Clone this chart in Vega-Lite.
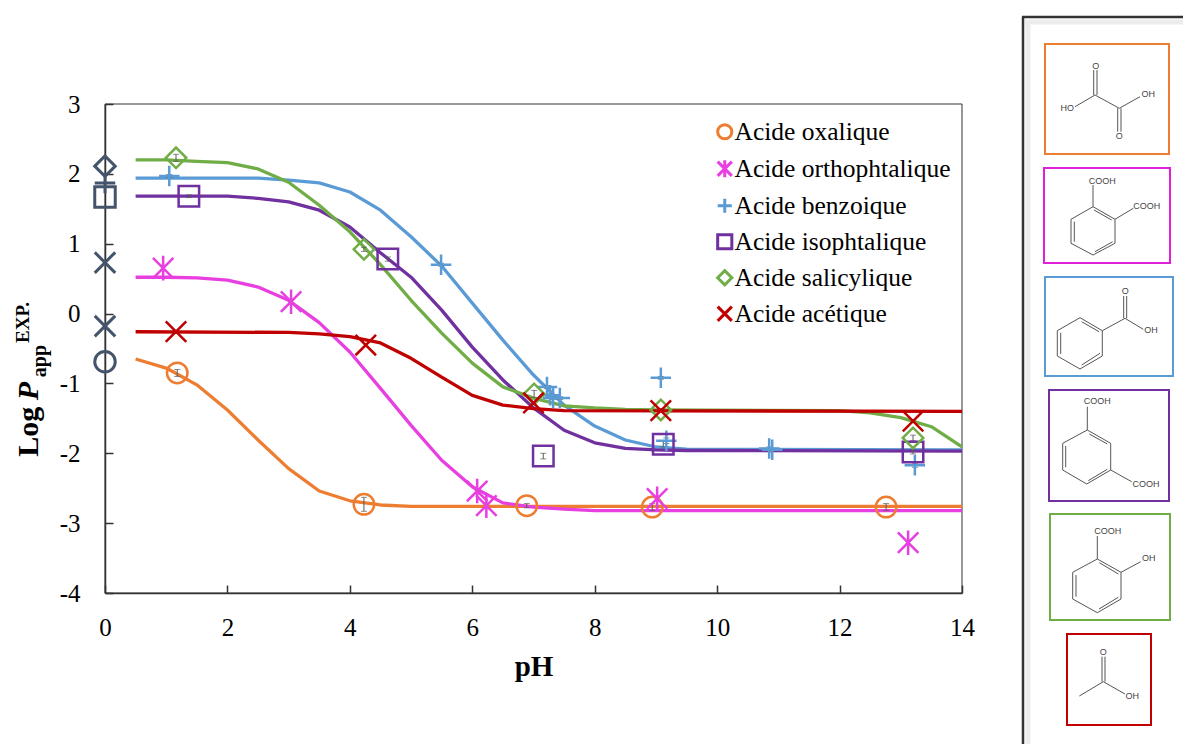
{
"$schema":"https://vega.github.io/schema/vega-lite/v6.json",
"padding":0,"spacing":0,
"background":"white",
"config":{"view":{"stroke":null},"legend":{"title":null,"orient":"none","labelFont":"Liberation Serif","labelFontSize":25.5,"labelColor":"#000000","labelLimit":400,"symbolSize":200,"symbolStrokeWidth":3,"rowPadding":8,"labelOffset":-3,"symbolOpacity":1}},
"datasets":{
"curves":[
{"s":"Acide oxalique","pH":0.5,"v":-0.65},{"s":"Acide oxalique","pH":1,"v":-0.78},{"s":"Acide oxalique","pH":1.5,"v":-1.02},{"s":"Acide oxalique","pH":2,"v":-1.38},{"s":"Acide oxalique","pH":2.5,"v":-1.81},{"s":"Acide oxalique","pH":3,"v":-2.22},{"s":"Acide oxalique","pH":3.5,"v":-2.54},{"s":"Acide oxalique","pH":4,"v":-2.68},{"s":"Acide oxalique","pH":4.5,"v":-2.74},{"s":"Acide oxalique","pH":5,"v":-2.76},{"s":"Acide oxalique","pH":7,"v":-2.76},{"s":"Acide oxalique","pH":14,"v":-2.76},
{"s":"Acide orthophtalique","pH":0.5,"v":0.52},{"s":"Acide orthophtalique","pH":1,"v":0.52},{"s":"Acide orthophtalique","pH":1.5,"v":0.51},{"s":"Acide orthophtalique","pH":2,"v":0.48},{"s":"Acide orthophtalique","pH":2.5,"v":0.38},{"s":"Acide orthophtalique","pH":3,"v":0.19},{"s":"Acide orthophtalique","pH":3.5,"v":-0.13},{"s":"Acide orthophtalique","pH":4,"v":-0.55},{"s":"Acide orthophtalique","pH":4.5,"v":-1.07},{"s":"Acide orthophtalique","pH":5,"v":-1.6},{"s":"Acide orthophtalique","pH":5.5,"v":-2.1},{"s":"Acide orthophtalique","pH":6,"v":-2.48},{"s":"Acide orthophtalique","pH":6.5,"v":-2.71},{"s":"Acide orthophtalique","pH":7,"v":-2.77},{"s":"Acide orthophtalique","pH":7.5,"v":-2.8},{"s":"Acide orthophtalique","pH":8,"v":-2.82},{"s":"Acide orthophtalique","pH":14,"v":-2.82},
{"s":"Acide benzoique","pH":0.5,"v":1.94},{"s":"Acide benzoique","pH":2.5,"v":1.94},{"s":"Acide benzoique","pH":3,"v":1.91},{"s":"Acide benzoique","pH":3.5,"v":1.87},{"s":"Acide benzoique","pH":4,"v":1.74},{"s":"Acide benzoique","pH":4.5,"v":1.48},{"s":"Acide benzoique","pH":5,"v":1.1},{"s":"Acide benzoique","pH":5.5,"v":0.68},{"s":"Acide benzoique","pH":6,"v":0.15},{"s":"Acide benzoique","pH":6.5,"v":-0.38},{"s":"Acide benzoique","pH":7,"v":-0.88},{"s":"Acide benzoique","pH":7.5,"v":-1.31},{"s":"Acide benzoique","pH":8,"v":-1.61},{"s":"Acide benzoique","pH":8.5,"v":-1.81},{"s":"Acide benzoique","pH":9,"v":-1.91},{"s":"Acide benzoique","pH":9.5,"v":-1.94},{"s":"Acide benzoique","pH":14,"v":-1.95},
{"s":"Acide isophtalique","pH":0.5,"v":1.68},{"s":"Acide isophtalique","pH":2,"v":1.68},{"s":"Acide isophtalique","pH":2.5,"v":1.65},{"s":"Acide isophtalique","pH":3,"v":1.6},{"s":"Acide isophtalique","pH":3.5,"v":1.48},{"s":"Acide isophtalique","pH":4,"v":1.24},{"s":"Acide isophtalique","pH":4.5,"v":0.87},{"s":"Acide isophtalique","pH":5,"v":0.52},{"s":"Acide isophtalique","pH":5.5,"v":0.05},{"s":"Acide isophtalique","pH":6,"v":-0.48},{"s":"Acide isophtalique","pH":6.5,"v":-0.95},{"s":"Acide isophtalique","pH":7,"v":-1.35},{"s":"Acide isophtalique","pH":7.5,"v":-1.67},{"s":"Acide isophtalique","pH":8,"v":-1.85},{"s":"Acide isophtalique","pH":8.5,"v":-1.93},{"s":"Acide isophtalique","pH":9,"v":-1.95},{"s":"Acide isophtalique","pH":9.5,"v":-1.96},{"s":"Acide isophtalique","pH":14,"v":-1.97},
{"s":"Acide salicylique","pH":0.5,"v":2.2},{"s":"Acide salicylique","pH":1,"v":2.2},{"s":"Acide salicylique","pH":1.5,"v":2.18},{"s":"Acide salicylique","pH":2,"v":2.16},{"s":"Acide salicylique","pH":2.5,"v":2.07},{"s":"Acide salicylique","pH":3,"v":1.88},{"s":"Acide salicylique","pH":3.5,"v":1.55},{"s":"Acide salicylique","pH":4,"v":1.17},{"s":"Acide salicylique","pH":4.5,"v":0.7},{"s":"Acide salicylique","pH":5,"v":0.19},{"s":"Acide salicylique","pH":5.5,"v":-0.28},{"s":"Acide salicylique","pH":6,"v":-0.71},{"s":"Acide salicylique","pH":6.5,"v":-1.05},{"s":"Acide salicylique","pH":7,"v":-1.21},{"s":"Acide salicylique","pH":7.5,"v":-1.32},{"s":"Acide salicylique","pH":8,"v":-1.35},{"s":"Acide salicylique","pH":8.5,"v":-1.37},{"s":"Acide salicylique","pH":9,"v":-1.38},{"s":"Acide salicylique","pH":12,"v":-1.39},{"s":"Acide salicylique","pH":12.5,"v":-1.42},{"s":"Acide salicylique","pH":13,"v":-1.49},{"s":"Acide salicylique","pH":13.5,"v":-1.62},{"s":"Acide salicylique","pH":14,"v":-1.91},
{"s":"Acide acétique","pH":0.5,"v":-0.26},{"s":"Acide acétique","pH":3,"v":-0.27},{"s":"Acide acétique","pH":3.5,"v":-0.29},{"s":"Acide acétique","pH":4,"v":-0.33},{"s":"Acide acétique","pH":4.5,"v":-0.42},{"s":"Acide acétique","pH":5,"v":-0.64},{"s":"Acide acétique","pH":5.5,"v":-0.91},{"s":"Acide acétique","pH":6,"v":-1.17},{"s":"Acide acétique","pH":6.5,"v":-1.31},{"s":"Acide acétique","pH":7,"v":-1.36},{"s":"Acide acétique","pH":7.5,"v":-1.39},{"s":"Acide acétique","pH":14,"v":-1.4}
],
"points":[
{"s":"Acide oxalique","pH":1.18,"v":-0.85,"e":0.05},{"s":"Acide oxalique","pH":4.23,"v":-2.73,"e":0.1},{"s":"Acide oxalique","pH":6.89,"v":-2.75,"e":0.03},{"s":"Acide oxalique","pH":8.94,"v":-2.77,"e":0.05},{"s":"Acide oxalique","pH":12.76,"v":-2.77,"e":0.05},
{"s":"Acide orthophtalique","pH":0.95,"v":0.65,"e":0.02},{"s":"Acide orthophtalique","pH":3.04,"v":0.17,"e":0.02},{"s":"Acide orthophtalique","pH":6.08,"v":-2.54,"e":0.02},{"s":"Acide orthophtalique","pH":6.23,"v":-2.75,"e":0.02},{"s":"Acide orthophtalique","pH":9.02,"v":-2.65,"e":0.02},{"s":"Acide orthophtalique","pH":13.12,"v":-3.28,"e":0.02},
{"s":"Acide benzoique","pH":1.05,"v":1.97,"e":0.02},{"s":"Acide benzoique","pH":5.49,"v":0.7,"e":0.02},{"s":"Acide benzoique","pH":7.22,"v":-1.05,"e":0.02},{"s":"Acide benzoique","pH":7.27,"v":-1.17,"e":0.02},{"s":"Acide benzoique","pH":7.32,"v":-1.21,"e":0.02},{"s":"Acide benzoique","pH":7.43,"v":-1.21,"e":0.02},{"s":"Acide benzoique","pH":9.08,"v":-0.92,"e":0.02},{"s":"Acide benzoique","pH":9.17,"v":-1.82,"e":0.04},{"s":"Acide benzoique","pH":10.85,"v":-1.93,"e":0.02},{"s":"Acide benzoique","pH":10.9,"v":-1.95,"e":0.02},{"s":"Acide benzoique","pH":13.23,"v":-2.17,"e":0.03},
{"s":"Acide isophtalique","pH":1.37,"v":1.68,"e":0.02},{"s":"Acide isophtalique","pH":4.62,"v":0.78,"e":0.03},{"s":"Acide isophtalique","pH":7.16,"v":-2.04,"e":0.04},{"s":"Acide isophtalique","pH":9.12,"v":-1.87,"e":0.04},{"s":"Acide isophtalique","pH":13.2,"v":-1.98,"e":0.03},
{"s":"Acide salicylique","pH":1.16,"v":2.23,"e":0.05},{"s":"Acide salicylique","pH":4.23,"v":0.92,"e":0.03},{"s":"Acide salicylique","pH":7.01,"v":-1.15,"e":0.05},{"s":"Acide salicylique","pH":9.08,"v":-1.38,"e":0.02},{"s":"Acide salicylique","pH":13.2,"v":-1.78,"e":0.04},
{"s":"Acide acétique","pH":1.16,"v":-0.26,"e":0.02},{"s":"Acide acétique","pH":4.26,"v":-0.45,"e":0.02},{"s":"Acide acétique","pH":7.0,"v":-1.28,"e":0.02},{"s":"Acide acétique","pH":9.08,"v":-1.39,"e":0.02},{"s":"Acide acétique","pH":13.2,"v":-1.54,"e":0.02}
],
"refs":[
{"s":"Acide salicylique","pH":0,"v":2.11},{"s":"Acide benzoique","pH":0,"v":1.87},{"s":"Acide isophtalique","pH":0,"v":1.67},{"s":"Acide acétique","pH":0,"v":0.73},{"s":"Acide acétique","pH":0,"v":-0.18},{"s":"Acide oxalique","pH":0,"v":-0.69}
],
"bonds":[
{"x":73,"y":95,"x2":97.3,"y2":108.3},{"x":71.7,"y":70,"x2":71.7,"y2":95},{"x":75,"y":70,"x2":75,"y2":95},{"x":73,"y":95,"x2":53,"y2":106.7},{"x":97.3,"y":108.3,"x2":118,"y2":96.7},{"x":95.7,"y":108.3,"x2":95.7,"y2":131.7},{"x":99,"y":108.3,"x2":99,"y2":131.7},
{"x":71,"y":206.7,"x2":93,"y2":219.3},{"x":93,"y":219.3,"x2":93,"y2":243.3},{"x":93,"y":243.3,"x2":71,"y2":255},{"x":71,"y":255,"x2":49,"y2":243.3},{"x":49,"y":243.3,"x2":49,"y2":219.3},{"x":49,"y":219.3,"x2":71,"y2":206.7},{"x":52.3,"y":221.7,"x2":52.3,"y2":241.7},{"x":73,"y":251.7,"x2":90.7,"y2":241.7},{"x":72,"y":210,"x2":89.7,"y2":220},{"x":71,"y":206.7,"x2":71,"y2":185},{"x":93,"y":219.3,"x2":111.3,"y2":208.3},
{"x":58,"y":317.7,"x2":80.3,"y2":330.7},{"x":80.3,"y":330.7,"x2":80.3,"y2":356},{"x":80.3,"y":356,"x2":58,"y2":369},{"x":58,"y":369,"x2":35.3,"y2":356},{"x":35.3,"y":356,"x2":35.3,"y2":330.7},{"x":35.3,"y":330.7,"x2":58,"y2":317.7},{"x":59.7,"y":321.7,"x2":77,"y2":331.7},{"x":38.7,"y":332.7,"x2":38.7,"y2":354},{"x":59.7,"y":365,"x2":78,"y2":353.3},{"x":80.3,"y":330.7,"x2":103,"y2":318.3},{"x":101.7,"y":296,"x2":101.7,"y2":318.3},{"x":104.7,"y":296,"x2":104.7,"y2":318.3},{"x":103,"y":318.3,"x2":121.3,"y2":329.3},
{"x":65.3,"y":430,"x2":88.7,"y2":443.3},{"x":88.7,"y":443.3,"x2":88.7,"y2":470},{"x":88.7,"y":470,"x2":64.7,"y2":484},{"x":64.7,"y":484,"x2":40.7,"y2":470},{"x":40.7,"y":470,"x2":40.7,"y2":443.3},{"x":40.7,"y":443.3,"x2":65.3,"y2":430},{"x":67.3,"y":434,"x2":85.3,"y2":444},{"x":43.7,"y":446,"x2":43.7,"y2":467.3},{"x":66.3,"y":480.7,"x2":85.3,"y2":469.3},{"x":65.3,"y":430,"x2":65.3,"y2":406.7},{"x":88.7,"y":470,"x2":109.7,"y2":481.7},
{"x":75.3,"y":559,"x2":99,"y2":572.3},{"x":99,"y":572.3,"x2":99,"y2":599},{"x":99,"y":599,"x2":75.3,"y2":612.7},{"x":75.3,"y":612.7,"x2":50.7,"y2":599},{"x":50.7,"y":599,"x2":50.7,"y2":572.3},{"x":50.7,"y":572.3,"x2":75.3,"y2":559},{"x":77.3,"y":562.7,"x2":96.3,"y2":574},{"x":54,"y":575,"x2":54,"y2":596.7},{"x":77,"y":609,"x2":96.3,"y2":597.3},{"x":75.3,"y":559,"x2":75.3,"y2":536},{"x":99,"y":572.3,"x2":118.7,"y2":561.7},
{"x":81.3,"y":681.7,"x2":57.3,"y2":696},{"x":80,"y":656.7,"x2":80,"y2":681.7},{"x":83,"y":656.7,"x2":83,"y2":681.7},{"x":81.3,"y":681.7,"x2":103,"y2":694}
],
"atoms":[
{"t":"O","x":73.7,"y":65.7},{"t":"HO","x":45.3,"y":108.3},{"t":"OH","x":126.3,"y":94.3},{"t":"O","x":97.3,"y":136.3},
{"t":"COOH","x":80.3,"y":180.7},{"t":"COOH","x":124.7,"y":205.7},
{"t":"O","x":103.3,"y":291.3},{"t":"OH","x":129,"y":330.3},
{"t":"COOH","x":75.3,"y":401},{"t":"COOH","x":124,"y":484},
{"t":"COOH","x":85.7,"y":531},{"t":"OH","x":126.7,"y":558.3},
{"t":"O","x":81.3,"y":651.7},{"t":"OH","x":110.3,"y":696.3}
],
"boxes":[
{"s":"Acide oxalique","x":23,"x2":147,"y":44,"y2":154},
{"s":"Acide orthophtalique","x":22,"x2":148,"y":168,"y2":263},
{"s":"Acide benzoique","x":23,"x2":151,"y":277,"y2":376},
{"s":"Acide isophtalique","x":27,"x2":147,"y":390,"y2":501},
{"s":"Acide salicylique","x":28,"x2":148,"y":514,"y2":620},
{"s":"Acide acétique","x":45,"x2":129,"y":634,"y2":725}
]
},
"hconcat":[
{
"width":1020,"height":744,
"layer":[
{"data":{"values":[{"a":0,"b":14,"c":-4,"d":3}]},
 "mark":{"type":"rect","fill":null,"stroke":"#333333","strokeWidth":1},
 "encoding":{"x":{"field":"a","type":"quantitative","scale":{"domain":[0,14],"range":[105,962],"nice":false,"zero":false},
   "axis":{"orient":"bottom","offset":-151,"values":[0,2,4,6,8,10,12,14],"labelExpr":"'' + datum.value","title":"pH","titleFont":"Liberation Serif","titleFontWeight":"bold","titleFontSize":29,"titleColor":"#000000","titlePadding":12,"labelFont":"Liberation Serif","labelFontSize":25,"labelColor":"#000000","labelPadding":30,"tickSize":-8,"tickColor":"#333333","tickWidth":1.5,"domainColor":"#333333","domainWidth":1.5,"grid":false,"labelFlush":false,"labelOverlap":false}},
  "x2":{"field":"b"},
  "y":{"field":"c","type":"quantitative","scale":{"domain":[-4,3],"range":[593,104],"nice":false,"zero":false},
   "axis":{"orient":"left","offset":-105,"values":[-4,-3,-2,-1,0,1,2,3],"labelExpr":"'' + datum.value","title":null,"labelFont":"Liberation Serif","labelFontSize":25,"labelColor":"#000000","labelPadding":33,"tickSize":-8,"tickColor":"#333333","tickWidth":1.5,"domainColor":"#333333","domainWidth":1.5,"grid":false,"labelOverlap":false}},
  "y2":{"field":"d"}}},
{"data":{"name":"curves"},
 "mark":{"type":"line","interpolate":"linear","strokeWidth":3.3,"strokeJoin":"round","clip":false},
 "encoding":{"x":{"field":"pH","type":"quantitative"},"y":{"field":"v","type":"quantitative"},"detail":{"field":"s"},
  "stroke":{"field":"s","type":"nominal","legend":null,"scale":{"domain":["Acide acétique","Acide salicylique","Acide isophtalique","Acide benzoique","Acide orthophtalique","Acide oxalique"],"range":["#C00000","#70AD47","#7030A0","#5B9BD5","#E83FE0","#ED7D31"]}}}},
{"data":{"name":"points"},
 "mark":{"type":"errorbar","ticks":{"size":6,"color":"#595959"},"rule":{"color":"#595959","strokeWidth":1}},
 "encoding":{"x":{"field":"pH","type":"quantitative"},"y":{"field":"v","type":"quantitative"},"yError":{"field":"e"}}},
{"data":{"name":"points"},
 "mark":{"type":"point","filled":false,"strokeWidth":2.5,"size":420,"opacity":1},
 "encoding":{"x":{"field":"pH","type":"quantitative"},"y":{"field":"v","type":"quantitative"},
  "color":{"field":"s","type":"nominal","scale":{"domain":["Acide oxalique","Acide orthophtalique","Acide benzoique","Acide isophtalique","Acide salicylique","Acide acétique"],"range":["#ED7D31","#E83FE0","#5B9BD5","#7030A0","#70AD47","#C00000"]},"legend":{"title":null,"orient":"none","legendX":712,"legendY":119}},
  "shape":{"field":"s","type":"nominal","legend":{"title":null,"orient":"none","legendX":712,"legendY":119},"scale":{"domain":["Acide oxalique","Acide orthophtalique","Acide benzoique","Acide isophtalique","Acide salicylique","Acide acétique"],"range":["circle","M-1,-1L1,1M-1,1L1,-1M0,-1.2V1.2","M-1,0H1M0,-1V1","square","diamond","M-1,-1L1,1M-1,1L1,-1"]}}}},
{"data":{"name":"refs"},
 "mark":{"type":"point","filled":false,"strokeWidth":3,"size":420,"stroke":"#44546A","opacity":1,"clip":false},
 "encoding":{"x":{"field":"pH","type":"quantitative"},"y":{"field":"v","type":"quantitative"},
  "shape":{"field":"s","type":"nominal","legend":{"title":null,"orient":"none","legendX":712,"legendY":119}}}},
{"data":{"values":[{"t":"Log","x":-1.095,"y":-2.05}]},
 "mark":{"type":"text","angle":270,"align":"left","baseline":"alphabetic","font":"Liberation Serif","fontWeight":"bold","fontSize":30,"color":"#000000"},
 "encoding":{"x":{"field":"x","type":"quantitative"},"y":{"field":"y","type":"quantitative"},"text":{"field":"t"}}},
{"data":{"values":[{"t":"P","x":-1.095,"y":-1.24}]},
 "mark":{"type":"text","angle":270,"align":"left","baseline":"alphabetic","font":"Liberation Serif","fontWeight":"bold","fontStyle":"italic","fontSize":30,"color":"#000000"},
 "encoding":{"x":{"field":"x","type":"quantitative"},"y":{"field":"y","type":"quantitative"},"text":{"field":"t"}}},
{"data":{"values":[{"t":"app","x":-0.964,"y":-0.91}]},
 "mark":{"type":"text","angle":270,"align":"left","baseline":"alphabetic","font":"Liberation Serif","fontWeight":"bold","fontSize":20,"color":"#000000"},
 "encoding":{"x":{"field":"x","type":"quantitative"},"y":{"field":"y","type":"quantitative"},"text":{"field":"t"}}},
{"data":{"values":[{"t":"EXP.","x":-1.242,"y":-0.42}]},
 "mark":{"type":"text","angle":270,"align":"left","baseline":"alphabetic","font":"Liberation Serif","fontWeight":"bold","fontSize":19,"color":"#000000"},
 "encoding":{"x":{"field":"x","type":"quantitative"},"y":{"field":"y","type":"quantitative"},"text":{"field":"t"}}}
]
},
{
"width":163,"height":744,
"layer":[
{"data":{"values":[{"x":6,"x2":6,"y":20,"y2":744},{"x":3,"x2":163,"y":22,"y2":22}]},
 "mark":{"type":"rule","strokeWidth":5,"color":"#ececec"},
 "encoding":{"x":{"field":"x","type":"quantitative","axis":null,"scale":{"domain":[0,163],"range":[0,163],"nice":false,"zero":false}},"x2":{"field":"x2"},
   "y":{"field":"y","type":"quantitative","axis":null,"scale":{"domain":[0,744],"range":[0,744],"nice":false,"zero":false}},"y2":{"field":"y2"}}},
{"data":{"values":[{"x":1,"x2":1,"y":17,"y2":744},{"x":0,"x2":163,"y":17,"y2":17}]},
 "mark":{"type":"rule","strokeWidth":2.5,"color":"#333333"},
 "encoding":{"x":{"field":"x","type":"quantitative"},"x2":{"field":"x2"},"y":{"field":"y","type":"quantitative"},"y2":{"field":"y2"}}},
{"data":{"name":"boxes"},
 "mark":{"type":"rect","fill":"white","strokeWidth":2},
 "encoding":{"x":{"field":"x","type":"quantitative"},"x2":{"field":"x2"},"y":{"field":"y","type":"quantitative"},"y2":{"field":"y2"},
  "stroke":{"field":"s","type":"nominal","legend":null,"scale":{"domain":["Acide oxalique","Acide orthophtalique","Acide benzoique","Acide isophtalique","Acide salicylique","Acide acétique"],"range":["#ED7D31","#E01FD8","#5B9BD5","#7030A0","#70AD47","#C00000"]}}}},
{"data":{"name":"bonds"},
 "mark":{"type":"rule","strokeWidth":1,"color":"#555555"},
 "encoding":{"x":{"field":"x","type":"quantitative"},"x2":{"field":"x2"},"y":{"field":"y","type":"quantitative"},"y2":{"field":"y2"}}},
{"data":{"name":"atoms"},
 "mark":{"type":"text","font":"Liberation Sans","fontSize":9,"color":"#444444","align":"center","baseline":"middle"},
 "encoding":{"x":{"field":"x","type":"quantitative"},"y":{"field":"y","type":"quantitative"},"text":{"field":"t"}}}
]
}
],
"resolve":{"scale":{"x":"independent","y":"independent","color":"independent","shape":"independent","stroke":"independent"}}
}
